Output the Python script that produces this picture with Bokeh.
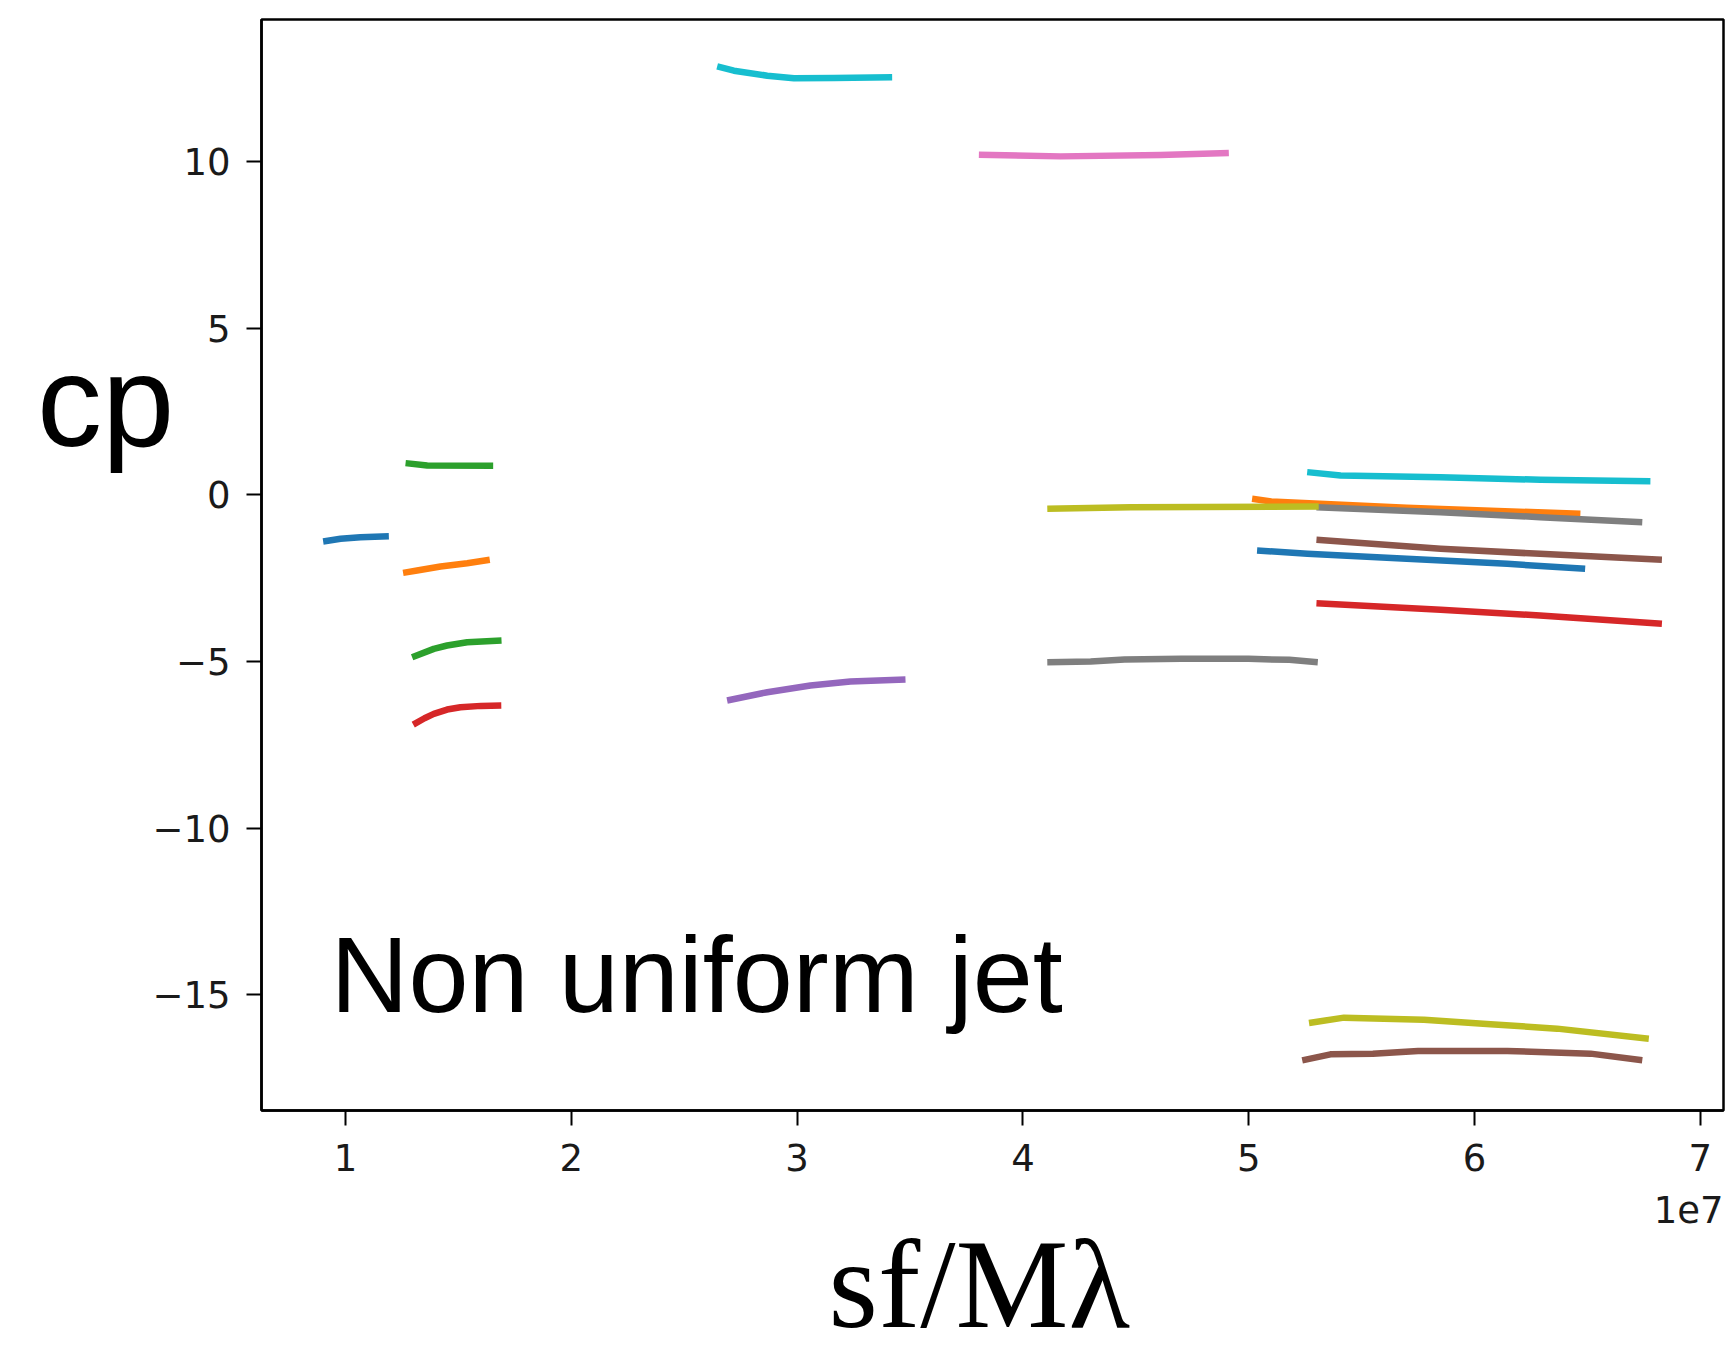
from bokeh.plotting import figure
from bokeh.models import Range1d, FixedTicker, Label, CustomJSTickFormatter, ColumnDataSource, Title
from bokeh.embed import file_html
from bokeh.resources import INLINE

XSCALE = 1e7  # x values below are given in units of 1e7 (axis offset "1e7")

# ---- data (x in 1e7 units, y = cp) ----
blue_l_x = [0.901, 0.978, 1.066, 1.192]
blue_l_y = [-1.40, -1.32, -1.27, -1.24]

green_t_x = [1.266, 1.362, 1.654]
green_t_y = [0.95, 0.88, 0.87]

orange_l_x = [1.255, 1.317, 1.421, 1.539, 1.639]
orange_l_y = [-2.34, -2.27, -2.15, -2.05, -1.95]

green_l_x = [1.295, 1.391, 1.450, 1.539, 1.691]
green_l_y = [-4.87, -4.62, -4.52, -4.42, -4.37]

red_l_x = [1.300, 1.350, 1.391, 1.450, 1.509, 1.600, 1.690]
red_l_y = [-6.89, -6.70, -6.57, -6.44, -6.37, -6.33, -6.32]

cyan_t_x = [2.646, 2.720, 2.868, 2.986, 3.163, 3.421]
cyan_t_y = [12.85, 12.72, 12.57, 12.49, 12.50, 12.52]

pink_x = [3.805, 4.167, 4.609, 4.912]
pink_y = [10.20, 10.15, 10.19, 10.25]

purple_x = [2.690, 2.868, 3.059, 3.236, 3.480]
purple_y = [-6.17, -5.92, -5.72, -5.60, -5.54]

gray_m_x = [4.108, 4.300, 4.450, 4.700, 5.000, 5.180, 5.306]
gray_m_y = [-5.02, -5.00, -4.94, -4.92, -4.92, -4.95, -5.02]

orange_r_x = [5.015, 5.100, 5.700, 6.469]
orange_r_y = [-0.12, -0.20, -0.39, -0.57]

gray_r_x = [5.300, 5.850, 6.290, 6.743]
gray_r_y = [-0.37, -0.52, -0.67, -0.82]

olive_m_x = [4.108, 4.477, 5.310]
olive_m_y = [-0.42, -0.37, -0.35]

cyan_r_x = [5.259, 5.407, 5.850, 6.292, 6.779]
cyan_r_y = [0.68, 0.58, 0.53, 0.45, 0.41]

blue_r_x = [5.037, 5.260, 5.700, 6.145, 6.490]
blue_r_y = [-1.67, -1.77, -1.92, -2.07, -2.22]

brown_r_x = [5.300, 5.850, 6.290, 6.830]
brown_r_y = [-1.35, -1.62, -1.77, -1.95]

red_r_x = [5.300, 5.850, 6.290, 6.830]
red_r_y = [-3.25, -3.45, -3.62, -3.87]

olive_b_x = [5.267, 5.422, 5.776, 6.071, 6.366, 6.772]
olive_b_y = [-15.84, -15.68, -15.74, -15.88, -16.01, -16.31]

brown_b_x = [5.237, 5.362, 5.550, 5.750, 6.145, 6.514, 6.743]
brown_b_y = [-16.96, -16.78, -16.76, -16.68, -16.68, -16.76, -16.96]

x_ticks = [1, 2, 3, 4, 5, 6, 7]
y_ticks = [-15, -10, -5, 0, 5, 10]

BLUE, ORANGE, GREEN, RED = "#1f77b4", "#ff7f0e", "#2ca02c", "#d62728"
PURPLE, BROWN, PINK, GRAY = "#9467bd", "#8c564b", "#e377c2", "#7f7f7f"
OLIVE, CYAN = "#bcbd22", "#17becf"

series = [
    (blue_l_x, blue_l_y, BLUE),
    (orange_l_x, orange_l_y, ORANGE),
    (green_t_x, green_t_y, GREEN),
    (green_l_x, green_l_y, GREEN),
    (red_l_x, red_l_y, RED),
    (purple_x, purple_y, PURPLE),
    (pink_x, pink_y, PINK),
    (cyan_t_x, cyan_t_y, CYAN),
    (gray_m_x, gray_m_y, GRAY),
    (blue_r_x, blue_r_y, BLUE),
    (orange_r_x, orange_r_y, ORANGE),
    (gray_r_x, gray_r_y, GRAY),
    (olive_m_x, olive_m_y, OLIVE),
    (cyan_r_x, cyan_r_y, CYAN),
    (brown_r_x, brown_r_y, BROWN),
    (red_r_x, red_r_y, RED),
    (olive_b_x, olive_b_y, OLIVE),
    (brown_b_x, brown_b_y, BROWN),
]

p = figure(width=1726, height=1361, output_backend="svg", toolbar_location=None,
           x_range=Range1d(0.6280 * XSCALE, 7.1027 * XSCALE),
           y_range=Range1d(-18.465, 14.255),
           min_border_left=261, min_border_right=3, min_border_top=19, min_border_bottom=251)

p.background_fill_color = "white"
p.border_fill_color = "white"
p.xgrid.visible = False
p.ygrid.visible = False
p.outline_line_color = "black"
p.outline_line_width = 2.5

for xs, ys, col in series:
    src = ColumnDataSource(dict(x=[v * XSCALE for v in xs], y=ys))
    p.line("x", "y", source=src, line_color=col, line_width=6.5, line_cap="butt", line_join="round")

xa = p.xaxis[0]
ya = p.yaxis[0]
xa.ticker = FixedTicker(ticks=[t * XSCALE for t in x_ticks])
xa.formatter = CustomJSTickFormatter(code="return (tick/1e7).toFixed(0);")
ya.ticker = FixedTicker(ticks=y_ticks)
ya.formatter = CustomJSTickFormatter(code="return tick < 0 ? '\\u2212' + Math.abs(tick) : String(tick);")

for ax in (xa, ya):
    ax.axis_line_color = "black"
    ax.axis_line_width = 2.5
    ax.major_tick_line_color = "black"
    ax.major_tick_line_width = 2
    ax.major_tick_out = 15
    ax.major_tick_in = 0
    ax.minor_tick_line_color = None
    ax.minor_tick_out = 0
    ax.minor_tick_in = 0
    ax.major_label_text_font = "DejaVu Sans"
    ax.major_label_text_font_size = "37px"
    ax.major_label_text_color = "#1a1a1a"

xa.major_label_standoff = 18
ya.major_label_standoff = 16

# offset text "1e7", right aligned at the end of the x axis
offset_title = Title(text="1e7", align="right", offset=0, standoff=40,
                     text_font="DejaVu Sans", text_font_size="37px",
                     text_font_style="normal", text_color="#1a1a1a")

# x-axis title
sf_title = Title(text="sf/Mλ", align="left", offset=567, standoff=-62,
                 text_font="Liberation Serif", text_font_size="127px",
                 text_font_style="normal", text_color="black")

p.below = [xa, offset_title, sf_title]

# y-axis title, horizontal
ya.axis_label = "cp\n\n"
ya.axis_label_orientation = "horizontal"
ya.axis_label_text_font = "Liberation Sans"
ya.axis_label_text_font_size = "130px"
ya.axis_label_text_font_style = "normal"
ya.axis_label_text_line_height = 1.12
ya.axis_label_text_color = "black"
ya.axis_label_standoff = -25

# annotation inside the plot
p.add_layout(Label(x=0.9336 * XSCALE, y=-14.38, text="Non uniform jet", text_align="left",
                   text_baseline="alphabetic", text_font="Liberation Sans",
                   text_font_size="108px", text_color="black"))

open("out.html", "w").write(file_html(p, INLINE))
